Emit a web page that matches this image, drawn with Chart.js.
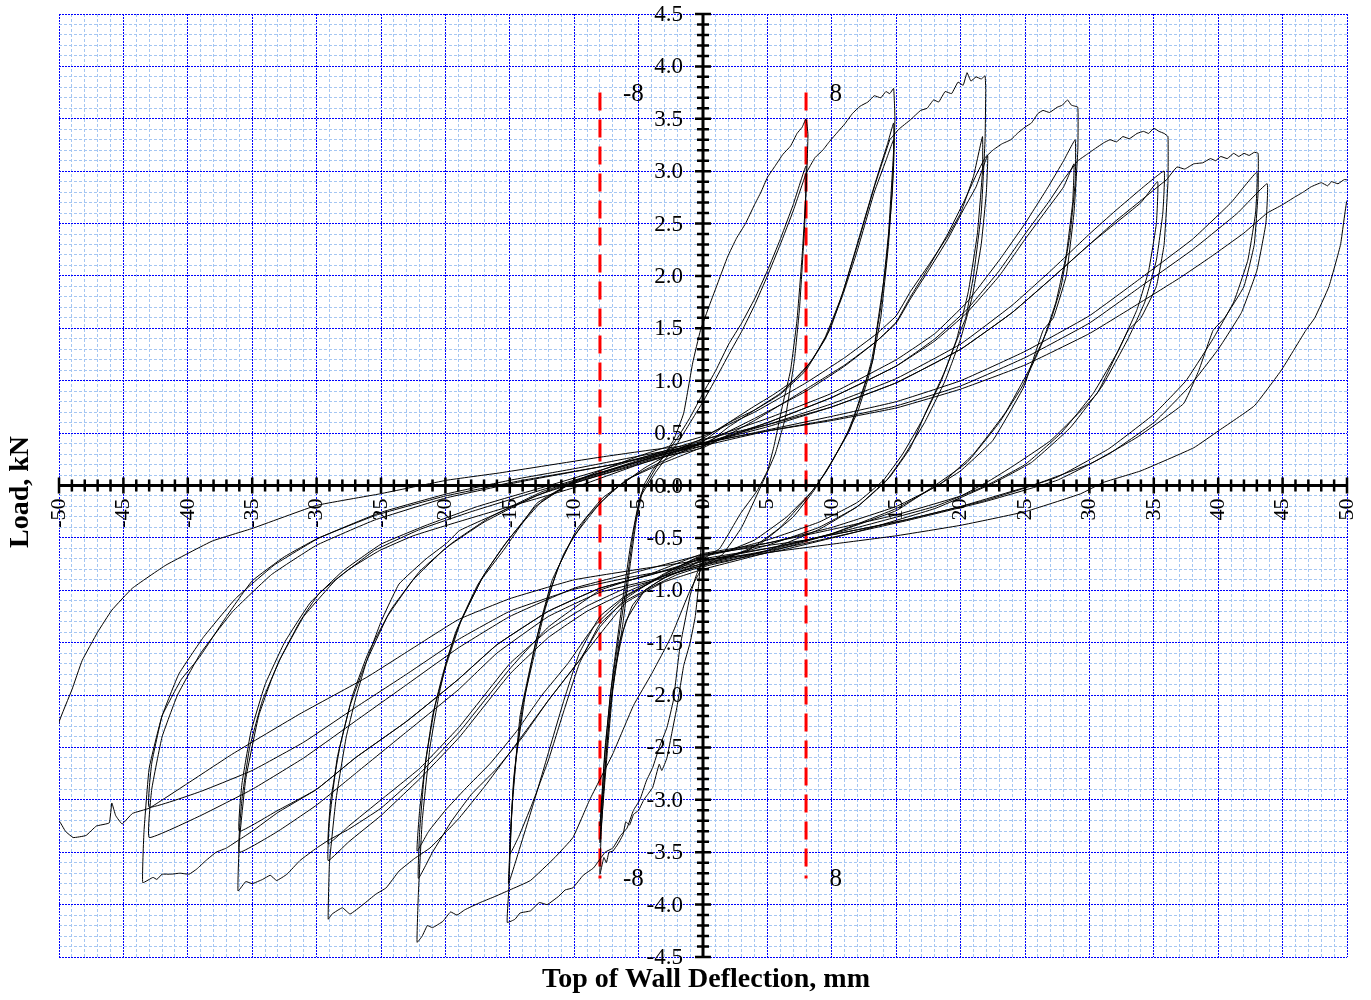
<!DOCTYPE html>
<html>
<head>
<meta charset="utf-8">
<script src="https://cdn.jsdelivr.net/npm/chart.js@4.4.1/dist/chart.umd.min.js"></script>
<style>
  html, body { margin: 0; padding: 0; background: #fff; }
  #wrap { width: 1371px; height: 1000px; }
</style>
</head>
<body>
<div id="wrap"><canvas id="myChart" width="1371" height="1000"></canvas></div>
<script>
// load-deflection path, one array per amplitude group
// points are [deflection mm, load kN], in test order
const cyc08 = [
  [0,0],[-0.1,-0.45],[-0.3,-0.9],[-0.6,-1.25],[-1.0,-1.5],[-1.5,-1.72],[-2.0,-2.1],[-2.4,-2.35],[-2.8,-2.6],[-3.2,-2.72],[-3.4,-2.66],[-3.9,-2.88],[-4.3,-2.95],[-4.6,-3.0],[-5.0,-3.1],[-5.4,-3.14],[-5.7,-3.24],[-6.0,-3.21],[-6.2,-3.33],[-6.6,-3.42],[-7.0,-3.49],[-7.3,-3.5],[-7.5,-3.6],[-7.7,-3.55],[-8.0,-3.71],
  [-7.9,-3.3],[-7.6,-2.7],[-7.2,-2.1],[-6.7,-1.7],[-6.2,-1.3],[-5.7,-0.8],[-5.2,-0.35],[-4.6,0.0],[-3.9,0.15],[-3.3,0.24],[-2.3,0.43],[-1.5,0.69],[-0.8,1.17],[-0.2,1.48],[0.5,1.72],[1.2,1.95],[1.9,2.18],[2.6,2.36],[3.3,2.5],[4.0,2.68],[4.5,2.8],[5.0,2.94],[5.6,3.05],[6.2,3.16],[6.8,3.24],[7.3,3.36],[7.7,3.42],[8.0,3.5],
  [8.15,3.35],[8.0,2.8],[7.7,2.2],[7.3,1.58],[6.8,1.1],[6.2,0.78],[5.5,0.37],[5.0,0.14],[4.2,-0.05],[2.9,-0.27],[1.3,-0.6],[0,-0.7],
  [-1.5,-0.8],[-3,-0.88],[-4.5,-1.0],[-5.5,-1.15],[-6.5,-1.5],[-7.0,-1.95],[-7.4,-2.5],[-7.7,-2.95],[-8.0,-3.41],
  [-7.7,-2.7],[-7.2,-2.0],[-6.6,-1.5],[-6.0,-1.0],[-5.4,-0.45],[-4.8,-0.08],[-3.5,0.2],[-2,0.45],[-1,0.65],[0,0.88],[1,1.1],[2,1.35],[3,1.55],[4,1.78],[5,2.05],[6,2.35],[7,2.68],[8,3.05],
  [7.9,2.5],[7.5,1.7],[7.1,1.2],[6.4,0.65],[5.6,0.3],[4.6,0.02],[3.0,-0.4],[1.5,-0.66],[0,-0.76],
  [-2.5,-0.85],[-4.5,-1.0],[-6.0,-1.3],[-6.9,-1.8],[-7.4,-2.4],[-7.7,-2.85],[-8.0,-3.25],
  [-7.6,-2.5],[-7.0,-1.8],[-6.3,-1.15],[-5.6,-0.55],[-4.9,-0.12],[-3.6,0.14],[-2,0.4],[-1,0.6],[0,0.8],[1,1.02],[2,1.25],[3,1.47],[4,1.72],[5,2.0],[6,2.3],[7,2.62],[8,2.98]
];

const cyc15 = [
  [8,2.98],[8.7,3.13],[9.3,3.2],[9.8,3.28],[10.5,3.38],[11.0,3.45],[11.6,3.55],[12.2,3.62],[12.8,3.66],[13.3,3.72],[13.8,3.7],[14.2,3.76],[14.5,3.74],[14.8,3.79],
  [14.9,3.5],[14.7,2.8],[14.2,2.1],[13.5,1.5],[13.2,1.2],[12.2,0.84],[11.4,0.53],[9.9,0.21],[8.6,-0.05],[7.0,-0.3],[4.4,-0.56],[2.0,-0.68],[0,-0.73],
  [-0.5,-0.85],[-1.0,-1.05],[-1.8,-1.55],[-2.3,-2.05],[-2.8,-2.31],[-3.4,-2.5],[-3.9,-2.69],[-4.4,-2.82],[-4.9,-3.0],[-5.4,-3.1],[-5.9,-3.27],[-6.4,-3.34],[-7.0,-3.46],[-7.6,-3.5],[-8.5,-3.65],[-9.3,-3.72],[-10.1,-3.84],[-10.7,-3.86],[-11.2,-3.92],[-12.1,-4.0],[-12.7,-3.98],[-13.4,-4.06],[-14.2,-4.08],[-14.6,-4.14],[-15.2,-4.17],
  [-15.1,-3.9],[-14.8,-3.0],[-14.2,-2.2],[-13.3,-1.67],[-12.5,-1.25],[-11.7,-0.9],[-10.1,-0.5],[-8.0,-0.17],[-6.0,0.05],[-4.0,0.18],[-2.0,0.3],[0,0.42],
  [2.0,0.6],[3.9,0.75],[5.5,0.87],[7.0,1.0],[8.5,1.2],[9.9,1.5],[11.0,1.9],[12.2,2.4],[13.5,2.94],[14.3,3.25],[14.8,3.46],
  [14.8,3.2],[14.4,2.4],[13.8,1.7],[13.1,1.2],[12.3,0.85],[11.2,0.5],[9.8,0.18],[8.5,-0.05],[6.5,-0.3],[4.0,-0.52],[2.0,-0.62],[0,-0.66],
  [-2,-0.78],[-4,-0.92],[-6,-1.05],[-8,-1.25],[-9.6,-1.6],[-10.8,-2.05],[-12.0,-2.55],[-13.2,-3.05],[-14.2,-3.45],[-15.1,-3.8],
  [-15.0,-3.5],[-14.7,-2.8],[-14.0,-2.1],[-13.2,-1.67],[-12.3,-1.2],[-11.3,-0.8],[-9.8,-0.42],[-7.8,-0.12],[-5.5,0.08],[-3,0.22],[0,0.37],
  [2,0.56],[4,0.72],[6,0.88],[8,1.12],[9.5,1.4],[10.8,1.8],[12,2.25],[13.3,2.8],[14.2,3.1],[14.8,3.3],
  [14.8,3.05],[14.4,2.3],[13.8,1.6],[13.0,1.1],[12.0,0.7],[10.8,0.4],[9.5,0.12],[8.3,-0.08],[6.0,-0.4],[3.5,-0.62],[1.0,-0.72],[0,-0.77],
  [-2,-0.85],[-4,-0.97],[-6,-1.1],[-8,-1.32],[-9.6,-1.7],[-10.8,-2.15],[-12.0,-2.62],[-13.3,-3.05],[-14.3,-3.35],[-15.0,-3.52],
  [-14.9,-3.2],[-14.5,-2.6],[-13.8,-2.0],[-13.0,-1.5],[-12.0,-1.05],[-10.8,-0.65],[-9.0,-0.3],[-7.0,-0.05],[-4.5,0.17],[-2,0.34],[0,0.45],
  [2,0.6],[4,0.72],[6,0.87],[8,1.1],[9.5,1.42],[10.8,1.82],[12,2.3],[13.3,2.85],[14.5,3.3]
];

const cyc22 = [
  [14.5,3.3],[15.2,3.4],[16.1,3.49],[16.9,3.58],[17.4,3.6],[17.9,3.68],[18.3,3.66],[18.8,3.76],[19.3,3.74],[19.8,3.85],[20.2,3.82],[20.5,3.94],[20.8,3.86],[21.2,3.9],[21.6,3.88],[21.9,3.91],[21.95,3.77],
  [21.9,3.3],[21.6,2.6],[21.0,2.0],[20.4,1.6],[20.0,1.48],[18.7,1.07],[17.3,0.7],[16.1,0.36],[14.5,0.08],[13.8,0],[12,-0.2],[9,-0.42],[5,-0.62],[2,-0.72],[0,-0.78],
  [-1,-1.0],[-2.5,-1.45],[-4,-1.8],[-5.4,-2.1],[-7,-2.56],[-8.8,-3.0],[-10.1,-3.36],[-11.5,-3.55],[-13.4,-3.77],[-15,-3.86],[-16.3,-3.93],[-17.3,-3.98],[-18.5,-4.05],[-19.1,-4.1],[-19.6,-4.07],[-20.2,-4.16],[-21.0,-4.22],[-21.4,-4.2],[-21.8,-4.3],[-22.2,-4.36],
  [-22.1,-3.9],[-21.8,-3.2],[-21.2,-2.5],[-20.5,-2.0],[-19.9,-1.67],[-18.9,-1.32],[-17.2,-0.9],[-15.5,-0.62],[-12.9,-0.17],[-10.3,0.02],[-8,0.14],[-5,0.28],[-2.5,0.38],[0,0.47],
  [4,0.7],[8,0.98],[11,1.22],[13.5,1.45],[15,1.62],[16.1,1.85],[17.5,2.1],[19,2.38],[20,2.6],[21,2.95],[21.7,3.33],
  [21.7,3.0],[21.3,2.4],[20.6,1.85],[19.7,1.4],[18.5,1.0],[17,0.62],[15.5,0.3],[14,0.05],[12,-0.16],[9,-0.35],[5,-0.52],[2,-0.62],[0,-0.67],
  [-3,-0.84],[-6,-1.08],[-8,-1.35],[-9.6,-1.67],[-12,-2.05],[-14,-2.4],[-16,-2.7],[-18,-2.95],[-19.5,-3.2],[-21,-3.5],[-22.1,-3.75],
  [-22.0,-3.3],[-21.6,-2.7],[-21.0,-2.2],[-20.2,-1.8],[-19.2,-1.4],[-17.5,-0.95],[-15.5,-0.58],[-13,-0.2],[-10.5,0.0],[-8,0.1],[-4,0.25],[0,0.36],
  [4,0.62],[8,0.92],[11,1.15],[13.5,1.38],[15,1.55],[16.1,1.78],[17.5,2.05],[19,2.35],[20.3,2.65],[21.2,2.85],[22.1,3.15],
  [22.0,2.8],[21.6,2.3],[20.9,1.8],[20.0,1.4],[18.8,1.0],[17.2,0.6],[15.6,0.28],[14.2,0.04],[12,-0.2],[9,-0.4],[5,-0.57],[2,-0.67],[0,-0.72],
  [-3,-0.86],[-6,-1.06],[-8.5,-1.35],[-10.5,-1.7],[-12.5,-2.0],[-14.5,-2.35],[-16.5,-2.65],[-18.5,-2.9],[-20,-3.1],[-21.3,-3.3],[-22.2,-3.49],
  [-22.0,-3.1],[-21.5,-2.6],[-20.8,-2.1],[-19.9,-1.7],[-18.8,-1.3],[-17,-0.85],[-15,-0.5],[-12.5,-0.15],[-10,0.04],[-7,0.16],[-3.5,0.3],[0,0.4],
  [4,0.64],[8,0.9],[11,1.14],[13.5,1.38],[15,1.56],[16.1,1.8],[17.5,2.08],[19,2.4],[20.3,2.72],[21.2,2.96],[21.9,3.13]
];

const cyc29 = [
  [21.9,3.13],[22.5,3.2],[23.2,3.26],[23.9,3.3],[24.4,3.36],[25,3.42],[25.5,3.46],[26,3.55],[26.4,3.58],[26.9,3.56],[27.5,3.61],[27.9,3.63],[28.3,3.68],[28.6,3.63],[29.1,3.61],
  [29.1,3.2],[28.8,2.6],[28.2,2.0],[27.2,1.6],[26.4,1.48],[24.9,0.94],[22.5,0.43],[20,0.14],[18.2,0],[15,-0.22],[10,-0.46],[5,-0.64],[0,-0.8],
  [-3,-0.92],[-6,-1.12],[-9.6,-1.67],[-12,-2.05],[-15,-2.55],[-17,-2.88],[-18.9,-3.17],[-19.9,-3.3],[-21.2,-3.46],[-22.4,-3.56],[-23.6,-3.68],[-24.6,-3.84],[-25.4,-3.9],[-26.4,-4.0],[-27.4,-4.09],[-28,-4.03],[-28.8,-4.09],[-29.1,-4.14],
  [-29.0,-3.6],[-28.5,-3.0],[-27.7,-2.4],[-26.9,-2.0],[-26.1,-1.67],[-25,-1.3],[-23.6,-0.94],[-21.5,-0.7],[-19.9,-0.55],[-18.9,-0.43],[-15.5,-0.24],[-12,-0.05],[-8,0.11],[-4,0.27],[0,0.43],
  [5,0.64],[10,0.88],[15,1.2],[18,1.45],[20.5,1.75],[23,2.15],[25,2.5],[26.8,2.85],[28,3.1],[28.9,3.3],
  [28.9,2.9],[28.5,2.4],[27.8,1.9],[26.8,1.5],[25.3,1.1],[23.5,0.7],[21,0.3],[18.5,0.02],[15,-0.2],[10,-0.4],[5,-0.55],[0,-0.68],
  [-3,-0.86],[-6,-1.02],[-9,-1.2],[-12,-1.45],[-15,-1.8],[-18.9,-2.4],[-22,-2.8],[-25,-3.15],[-27.5,-3.4],[-29.1,-3.58],
  [-29.0,-3.2],[-28.4,-2.6],[-27.4,-2.1],[-26.2,-1.7],[-24.5,-1.25],[-22.5,-0.9],[-20,-0.6],[-17,-0.35],[-13,-0.1],[-9,0.06],[-4.5,0.22],[0,0.38],
  [5,0.6],[10,0.84],[15,1.14],[18,1.38],[20.5,1.65],[23,2.0],[25,2.35],[26.8,2.65],[28,2.85],[28.8,3.07],
  [28.7,2.7],[28.2,2.2],[27.4,1.75],[26.3,1.35],[24.8,0.95],[23,0.6],[20.5,0.22],[18,0],[15,-0.24],[10,-0.46],[5,-0.62],[0,-0.74],
  [-3,-0.88],[-6,-0.98],[-9,-1.15],[-12,-1.38],[-15,-1.7],[-18.9,-2.3],[-22,-2.7],[-25,-3.0],[-27.5,-3.25],[-29.1,-3.42],
  [-28.9,-3.0],[-28.2,-2.5],[-27.2,-2.0],[-26,-1.6],[-24.2,-1.18],[-22,-0.82],[-19.5,-0.55],[-16.5,-0.3],[-12.5,-0.06],[-8.5,0.1],[-4,0.26],[0,0.4],
  [5,0.6],[10,0.84],[15,1.14],[18,1.4],[20.5,1.68],[23,2.05],[25,2.4],[26.8,2.7],[28,2.92],[29.1,3.1]
];

const cyc36 = [
  [29.1,3.1],[29.8,3.16],[30.5,3.22],[31.1,3.27],[31.6,3.3],[32.1,3.28],[32.6,3.33],[33.1,3.31],[33.7,3.36],[34.2,3.38],[34.6,3.36],[35,3.41],[35.4,3.38],[35.8,3.36],[36.1,3.33],
  [36.1,2.9],[35.8,2.3],[35.2,1.9],[34,1.6],[33,1.48],[30.6,0.88],[27,0.43],[24,0.18],[22.3,0.05],[20,-0.1],[15,-0.28],[10,-0.42],[5,-0.55],[0,-0.65],
  [-4,-0.84],[-8,-1.0],[-12,-1.35],[-15,-1.75],[-18.9,-2.35],[-22,-2.75],[-25,-3.08],[-27.5,-3.28],[-29,-3.38],[-30,-3.46],[-31.3,-3.58],[-32.3,-3.71],[-33.1,-3.77],[-33.6,-3.72],[-34.2,-3.76],[-35,-3.8],[-35.5,-3.78],[-36.1,-3.87],
  [-36,-3.4],[-35.5,-2.8],[-34.5,-2.2],[-33.5,-1.85],[-32.9,-1.67],[-31.3,-1.3],[-29.8,-1.03],[-27.5,-0.8],[-25.1,-0.62],[-22.5,-0.48],[-19.9,-0.38],[-15,-0.2],[-10,-0.02],[-5,0.2],[0,0.4],
  [5,0.58],[10,0.78],[15,1.02],[20,1.35],[24,1.72],[27,2.05],[30,2.4],[32,2.62],[34.2,2.85],[35.8,3.0],
  [35.7,2.6],[35.2,2.15],[34.3,1.75],[33,1.4],[31,0.95],[28.5,0.55],[25.5,0.22],[22.5,0.02],[18,-0.22],[12,-0.44],[6,-0.62],[0,-0.76],
  [-4,-0.9],[-8,-1.02],[-12,-1.25],[-16,-1.6],[-19,-1.95],[-23,-2.35],[-27,-2.75],[-30,-3.05],[-33,-3.3],[-36,-3.5],
  [-35.8,-3.0],[-35.2,-2.5],[-34.2,-2.05],[-32.8,-1.65],[-31,-1.25],[-28.5,-0.9],[-25.5,-0.62],[-22,-0.42],[-18,-0.25],[-13,-0.06],[-7,0.16],[0,0.4],
  [5,0.56],[10,0.75],[15,0.98],[20,1.3],[24,1.65],[27,1.97],[30,2.3],[32,2.5],[34,2.7],[35.3,2.9],
  [35.2,2.5],[34.6,2.05],[33.7,1.68],[32.3,1.3],[30.3,0.88],[27.8,0.5],[25,0.2],[22,0.0],[18,-0.2],[12,-0.4],[6,-0.58],[0,-0.7],
  [-4,-0.85],[-8,-0.98],[-12,-1.2],[-16,-1.52],[-19,-1.85],[-23,-2.25],[-27,-2.6],[-30,-2.9],[-33,-3.1],[-36,-3.3],
  [-35.8,-2.85],[-35.1,-2.35],[-34,-1.9],[-32.5,-1.5],[-30.5,-1.12],[-28,-0.82],[-25,-0.56],[-21.5,-0.38],[-17.5,-0.2],[-12.5,-0.02],[-6.5,0.2],[0,0.44],
  [5,0.58],[10,0.75],[15,0.98],[20,1.3],[24,1.65],[27,1.97],[30,2.3],[32,2.52],[34,2.72],[36,2.92]
];

const cyc43 = [
  [36,2.92],[36.8,3.04],[37.4,3.02],[38.1,3.07],[38.8,3.08],[39.4,3.12],[39.8,3.1],[40.2,3.14],[40.7,3.12],[41.2,3.17],[41.6,3.14],[42,3.17],[42.4,3.15],[42.8,3.18],[43.1,3.17],
  [43.1,2.8],[42.8,2.3],[42,1.9],[40.5,1.6],[39.6,1.48],[38.5,1.1],[37.3,0.78],[33.7,0.46],[30.1,0.21],[26,0.02],[20,-0.2],[15,-0.35],[10,-0.47],[5,-0.6],[0,-0.72],
  [-4,-0.85],[-8,-0.98],[-12,-1.2],[-16,-1.52],[-19,-1.85],[-23,-2.25],[-27,-2.6],[-30,-2.9],[-33,-3.12],[-35,-3.3],[-36,-3.38],[-37,-3.46],[-37.8,-3.5],[-38.6,-3.58],[-39.3,-3.66],[-39.9,-3.71],[-40.6,-3.7],[-41.3,-3.71],[-42,-3.71],[-42.4,-3.76],[-42.7,-3.74],[-43.5,-3.79],
  [-43.4,-3.3],[-43.0,-2.7],[-42.0,-2.2],[-40.5,-1.85],[-39.1,-1.64],[-37,-1.25],[-35,-0.91],[-32.5,-0.68],[-30,-0.51],[-25.1,-0.26],[-19.9,-0.08],[-15,0.05],[-10,0.16],[-5,0.28],[0,0.4],
  [5,0.53],[10,0.66],[15,0.8],[20,1.0],[25,1.28],[30,1.62],[34,1.98],[38,2.35],[41,2.7],[43,2.99],
  [42.9,2.6],[42.3,2.15],[41.2,1.75],[39.6,1.4],[37.5,1.0],[35,0.68],[31.5,0.35],[27.5,0.08],[22,-0.14],[16,-0.32],[8,-0.52],[0,-0.66],
  [-5,-0.82],[-10,-0.98],[-15,-1.25],[-19,-1.55],[-23,-1.9],[-27,-2.25],[-31,-2.6],[-35,-2.9],[-39,-3.15],[-43,-3.36],
  [-42.8,-2.9],[-42,-2.4],[-40.8,-2.0],[-39,-1.6],[-36.5,-1.2],[-33.5,-0.85],[-30,-0.57],[-25.5,-0.33],[-20,-0.12],[-14,0.04],[-7,0.2],[0,0.38],
  [5,0.52],[10,0.63],[15,0.76],[20,0.95],[25,1.22],[30,1.55],[34,1.9],[38,2.25],[41.5,2.6],[43.8,2.88],
  [43.7,2.5],[43,2.05],[41.8,1.65],[40,1.3],[37.8,0.95],[35,0.6],[31.5,0.3],[27.5,0.05],[22,-0.15],[16,-0.33],[8,-0.55],[0,-0.75],
  [-5,-0.86],[-10,-0.99],[-15,-1.2],[-19,-1.47],[-23,-1.8],[-27,-2.12],[-31,-2.45],[-35,-2.72],[-39,-2.92],[-43,-3.07],
  [-42.8,-2.65],[-42,-2.2],[-40.7,-1.8],[-38.8,-1.45],[-36.3,-1.08],[-33.3,-0.76],[-29.8,-0.5],[-25.3,-0.28],[-20,-0.1],[-14,0.05],[-7,0.2],[0,0.41]
];

const cyc50 = [
  [0,0.41],[5,0.52],[10,0.62],[15,0.74],[20,0.92],[25,1.15],[30,1.45],[34,1.75],[37,1.98],[39.4,2.18],[42,2.41],[43.8,2.6],[45,2.68],[45.9,2.75],[46.6,2.8],[47.2,2.85],[48,2.89],[48.5,2.86],[48.8,2.9],[49.3,2.88],[49.8,2.92],[50.5,2.9],
  [50.6,2.7],[50,2.72],[49.5,2.3],[48.6,1.9],[47.5,1.6],[46.8,1.48],[44.9,1.1],[42.8,0.76],[40,0.52],[38.1,0.36],[34,0.14],[31.1,0.03],[29.3,-0.08],[25,-0.25],[20,-0.38],[15,-0.48],[10,-0.56],[5,-0.64],[0,-0.71],
  [-5,-0.8],[-10,-0.9],[-15,-1.08],[-19,-1.28],[-22.5,-1.55],[-26.1,-1.83],[-31.3,-2.18],[-36.5,-2.56],[-40.1,-2.85],[-43,-3.08],[-44.3,-3.13],[-45.1,-3.23],[-45.6,-3.15],[-45.9,-3.03],[-46.1,-3.22],[-47.1,-3.25],[-47.9,-3.34],[-48.9,-3.36],[-49.5,-3.3],[-50,-3.2],[-50.5,-3.25],
  [-50.6,-2.8],[-50,-2.26],[-49,-1.95],[-48.2,-1.67],[-47,-1.4],[-45.9,-1.19],[-44.3,-0.98],[-41.7,-0.76],[-38.1,-0.53],[-35,-0.41],[-30,-0.19],[-25.1,-0.08],[-19.9,0.05],[-15.8,0.12],[-8,0.27],[-4,0.34],[0,0.4]
];

// red reference lines at +/-8 mm
const guideX = [-8, 8];
const guideTop = 3.75;
const guideBottom = -3.75;
const guideText = ['-8', '8', '-8', '8'];
const guideTextX = [-5.4, 10.3, -5.4, 10.3];
const guideTextY = [3.73, 3.73, -3.76, -3.76];

// axis tick labels
const xTickLabels = [-50, -45, -40, -35, -30, -25, -20, -15, -10, -5, 0, 5, 10, 15, 20, 25, 30, 35, 40, 45, 50];
const yTickLabels = [4.5, 4.0, 3.5, 3.0, 2.5, 2.0, 1.5, 1.0, 0.5, 0.0, -0.5, -1.0, -1.5, -2.0, -2.5, -3.0, -3.5, -4.0, -4.5];

const serif = '"Liberation Serif", "Times New Roman", serif';

function toPoints(arr) {
    return arr.map(p => ({ x: p[0], y: p[1] }));
}

function isMajorX(v) { return Math.round(v) % 5 === 0; }
function isMajorY(v) { return Math.round(v * 10) % 5 === 0; }

const loopSets = [cyc08, cyc15, cyc22, cyc29, cyc36, cyc43, cyc50];

const datasets = loopSets.map(arr => ({
    data: toPoints(arr),
    showLine: true,
    borderColor: '#000000',
    borderWidth: 1,
    pointRadius: 0,
    tension: 0.1
}));

guideX.forEach(gx => {
    datasets.push({
        data: [{ x: gx, y: guideTop }, { x: gx, y: guideBottom }],
        showLine: true,
        borderColor: '#ff0000',
        borderWidth: 3,
        borderDash: [18, 9],
        pointRadius: 0
    });
});

const centerAxes = {
    id: 'centerAxes',
    afterDatasetsDraw(chart) {
        const ctx = chart.ctx;
        const xs = chart.scales.x;
        const ys = chart.scales.y;
        const x0 = xs.getPixelForValue(0);
        const y0 = ys.getPixelForValue(0);

        ctx.save();
        ctx.strokeStyle = '#000';
        ctx.lineWidth = 3;
        ctx.beginPath();
        ctx.moveTo(xs.left, y0);
        ctx.lineTo(xs.right, y0);
        ctx.moveTo(x0, ys.top);
        ctx.lineTo(x0, ys.bottom);
        ctx.stroke();

        // cross tick marks
        ctx.lineWidth = 2.5;
        ctx.beginPath();
        xs.ticks.forEach(t => {
            const px = xs.getPixelForValue(t.value);
            const h = isMajorX(t.value) ? 8 : 6;
            ctx.moveTo(px, y0 - h);
            ctx.lineTo(px, y0 + h);
        });
        ys.ticks.forEach(t => {
            const py = ys.getPixelForValue(t.value);
            const h = isMajorY(t.value) ? 8 : 6;
            ctx.moveTo(x0 - h, py);
            ctx.lineTo(x0 + h, py);
        });
        ctx.stroke();

        ctx.fillStyle = '#000';
        ctx.font = '22px ' + serif;
        xTickLabels.forEach(v => {
            ctx.save();
            ctx.translate(xs.getPixelForValue(v), y0 + 13);
            ctx.rotate(-Math.PI / 2);
            ctx.textAlign = 'right';
            ctx.textBaseline = 'middle';
            ctx.fillText(String(v), 0, 0);
            ctx.restore();
        });

        ctx.font = '23px ' + serif;
        ctx.textAlign = 'right';
        ctx.textBaseline = 'middle';
        yTickLabels.forEach(v => {
            ctx.fillText(v.toFixed(1), x0 - 20, ys.getPixelForValue(v) + 1);
        });

        ctx.font = '25px ' + serif;
        ctx.textAlign = 'center';
        guideText.forEach((s, i) => {
            ctx.fillText(s, xs.getPixelForValue(guideTextX[i]), ys.getPixelForValue(guideTextY[i]));
        });

        ctx.font = 'bold 28px ' + serif;
        ctx.fillText('Top of Wall Deflection, mm', 706, 980);
        ctx.save();
        ctx.translate(21, 492);
        ctx.rotate(-Math.PI / 2);
        ctx.fillText('Load, kN', 0, 0);
        ctx.restore();
        ctx.restore();
    }
};

const ctx = document.getElementById('myChart').getContext('2d');

const myChart = new Chart(ctx, {
    type: 'scatter',
    data: { datasets: datasets },
    options: {
        responsive: false,
        animation: false,
        devicePixelRatio: 1,
        events: [],
        layout: { padding: { left: 59, right: 24, top: 14, bottom: 43 } },
        plugins: {
            legend: { display: false },
            tooltip: { enabled: false }
        },
        scales: {
            x: {
                type: 'linear',
                min: -50,
                max: 50,
                ticks: { stepSize: 1, display: false },
                grid: {
                    drawTicks: false,
                    lineWidth: 1,
                    color: c => (c.tick && isMajorX(c.tick.value)) ? '#0000ff' : '#a4c6f2'
                },
                border: {
                    display: false,
                    dash: c => (c.tick && isMajorX(c.tick.value)) ? [2, 1] : [3, 2]
                }
            },
            y: {
                type: 'linear',
                min: -4.5,
                max: 4.5,
                ticks: { stepSize: 0.1, display: false },
                grid: {
                    drawTicks: false,
                    lineWidth: 1,
                    color: c => (c.tick && isMajorY(c.tick.value)) ? '#0000ff' : '#a4c6f2'
                },
                border: {
                    display: false,
                    dash: c => (c.tick && isMajorY(c.tick.value)) ? [2, 1] : [3, 2]
                }
            }
        }
    },
    plugins: [centerAxes]
});
</script>
</body>
</html>
